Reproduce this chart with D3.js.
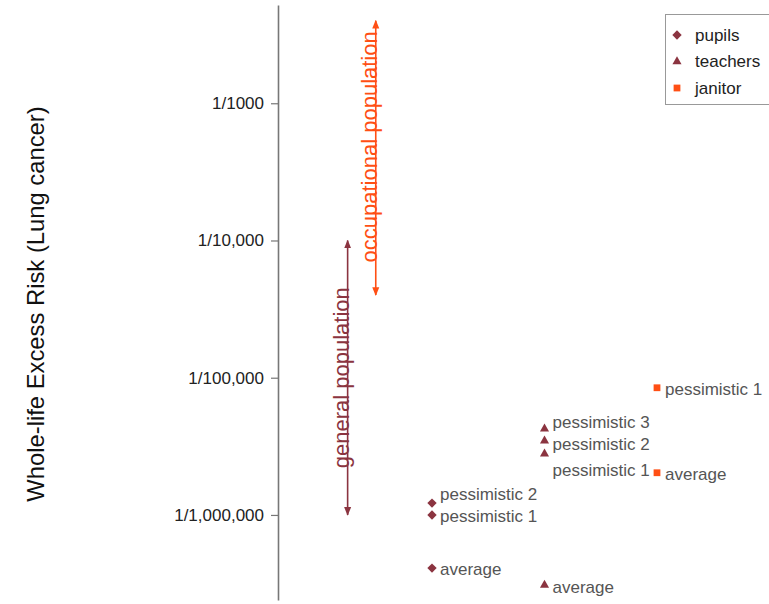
<!DOCTYPE html>
<html>
<head>
<meta charset="utf-8">
<script src="https://cdn.jsdelivr.net/npm/d3@7/dist/d3.min.js"></script>
<style>
  html, body { margin: 0; padding: 0; background: #fff; }
  svg { display: block; font-family: "Liberation Sans", Arial, sans-serif; }
</style>
</head>
<body>
<svg id="chart" width="769" height="604"></svg>
<script>
// Groups and their x positions
const groups = ["pupils", "teachers", "janitor"];
const groupX = [1, 2, 3];
const groupColors = ["#8B3440", "#8B3440", "#FF4F14"];
const groupShapes = ["diamond", "triangle", "square"];

// Scenario estimates (whole-life excess risk)
const pupilScenarios = ["average", "pessimistic 1", "pessimistic 2"];
const pupilRisk = [4.1e-7, 1.0e-6, 1.22e-6];
const teacherScenarios = ["average", "pessimistic 1", "pessimistic 2", "pessimistic 3"];
const teacherRisk = [3.08e-7, 2.79e-6, 3.47e-6, 4.24e-6];
const janitorScenarios = ["average", "pessimistic 1"];
const janitorRisk = [2.03e-6, 8.45e-6];

// Label vertical nudges (px) to keep neighbouring labels apart
const pupilLabelDy = [1, 1, -9];
const teacherLabelDy = [2, 16, 3, -7];
const janitorLabelDy = [1, 1];

// Reference ranges
const rangeNames = ["general population", "occupational population"];
const rangeX = [0.25, 0.5];
const rangeLow = [1e-6, 4e-5];
const rangeHigh = [1e-4, 4e-3];
const rangeColors = ["#8B3440", "#FF4F14"];
const rangeLabelDy = [0, -11];

// Axis ticks
const tickValues = [1e-3, 1e-4, 1e-5, 1e-6];
const tickLabels = ["1/1000", "1/10,000", "1/100,000", "1/1,000,000"];

const svg = d3.select("#chart");

const x = d3.scaleLinear().domain([-0.369, 3]).range([278, 657]);
const y = d3.scaleLog().domain([2.4e-7, 5.2e-3]).range([600, 5]);

// Y axis
const yAxis = d3.axisLeft(y)
  .tickValues(tickValues)
  .tickFormat((d, i) => tickLabels[i])
  .tickSize(7)
  .tickSizeOuter(0);
const gy = svg.append("g")
  .attr("transform", `translate(${x(-0.369)},0)`)
  .call(yAxis);
gy.select(".domain").attr("stroke", "#777").attr("stroke-width", 1.6);
gy.selectAll(".tick line").attr("stroke", "#777").attr("stroke-width", 1.2);
gy.selectAll(".tick text")
  .attr("fill", "#222")
  .attr("font-size", 17)
  .attr("font-family", "Liberation Sans, Arial, sans-serif")
  .attr("x", -14);

svg.append("text")
  .attr("transform", `translate(44,304) rotate(-90)`)
  .attr("text-anchor", "middle")
  .attr("font-size", 23.8)
  .attr("fill", "#111")
  .text("Whole-life Excess Risk (Lung cancer)");

// Range arrows
const defs = svg.append("defs");
rangeColors.forEach((c, i) => {
  defs.append("marker")
    .attr("id", "arrow" + i)
    .attr("viewBox", "0 0 10 10")
    .attr("refX", 9).attr("refY", 5)
    .attr("markerWidth", 5.5).attr("markerHeight", 5.5)
    .attr("markerUnits", "strokeWidth")
    .attr("orient", "auto-start-reverse")
    .append("path")
    .attr("d", "M0,1 L10,5 L0,9 Z")
    .attr("fill", c);
});

rangeNames.forEach((name, i) => {
  const px = x(rangeX[i]);
  svg.append("line")
    .attr("x1", px).attr("x2", px)
    .attr("y1", y(rangeLow[i])).attr("y2", y(rangeHigh[i]))
    .attr("stroke", rangeColors[i])
    .attr("stroke-width", 1.6)
    .attr("marker-start", `url(#arrow${i})`)
    .attr("marker-end", `url(#arrow${i})`);
  const mid = Math.sqrt(rangeLow[i] * rangeHigh[i]);
  svg.append("text")
    .attr("transform", `translate(${px + 1},${y(mid) + rangeLabelDy[i]}) rotate(-90)`)
    .attr("text-anchor", "middle")
    .attr("font-size", 22)
    .attr("fill", rangeColors[i])
    .text(name);
});

// Points
const series = [
  { names: pupilScenarios, risk: pupilRisk, dy: pupilLabelDy },
  { names: teacherScenarios, risk: teacherRisk, dy: teacherLabelDy },
  { names: janitorScenarios, risk: janitorRisk, dy: janitorLabelDy }
];

const symbolFor = {
  diamond: d3.symbol().type(d3.symbolDiamond2).size(56),
  triangle: d3.symbol().type(d3.symbolTriangle).size(36),
  square: d3.symbol().type(d3.symbolSquare).size(46)
};

series.forEach((s, gi) => {
  const gx = x(groupX[gi]);
  s.risk.forEach((r, j) => {
    svg.append("path")
      .attr("d", symbolFor[groupShapes[gi]]())
      .attr("transform", `translate(${gx},${y(r)})`)
      .attr("fill", groupColors[gi]);
    svg.append("text")
      .attr("x", gx + 8)
      .attr("y", y(r) + s.dy[j])
      .attr("dy", "0.35em")
      .attr("font-size", 17)
      .attr("fill", "#555")
      .text(s.names[j]);
  });
});

// Legend
const legend = svg.append("g").attr("transform", "translate(665,14)");
legend.append("rect")
  .attr("x", 0.5).attr("y", 0.5)
  .attr("width", 110).attr("height", 90)
  .attr("fill", "#fff")
  .attr("stroke", "#999");
groups.forEach((g, i) => {
  const ly = 21 + i * 26.5;
  legend.append("path")
    .attr("d", symbolFor[groupShapes[i]]())
    .attr("transform", `translate(12,${ly})`)
    .attr("fill", groupColors[i]);
  legend.append("text")
    .attr("x", 30).attr("y", ly)
    .attr("dy", "0.35em")
    .attr("font-size", 17)
    .attr("fill", "#222")
    .text(g);
});
</script>
</body>
</html>
